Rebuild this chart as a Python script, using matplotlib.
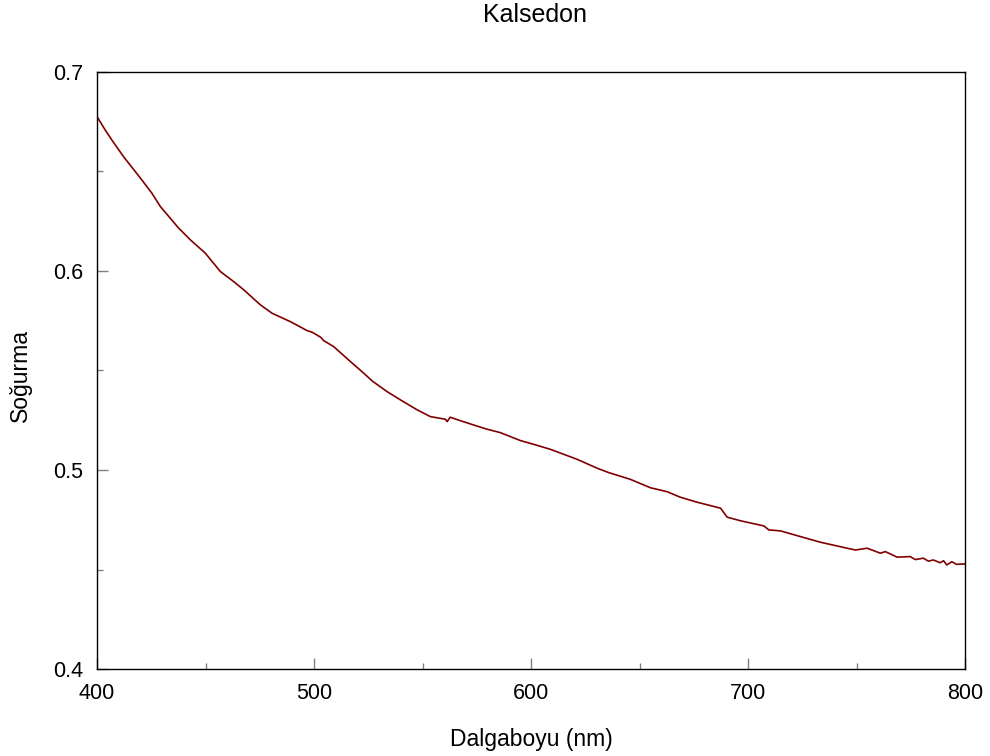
import matplotlib
matplotlib.use("Agg")
import matplotlib.pyplot as plt
from matplotlib.ticker import MultipleLocator

plt.rcParams['font.family'] = ['Liberation Sans', 'DejaVu Sans']

# spectrum
wavelength = [400.0, 403.7, 406.8, 412.2, 420.0, 425.3, 429.2, 437.6, 443.0, 449.9,
              456.8, 463.0, 467.6, 475.3, 480.7, 489.1, 496.8, 499.1, 503.0, 504.4,
              509.0, 516.8, 522.9, 526.8, 533.7, 539.8, 547.5, 553.6, 560.5, 561.3,
              562.7, 567.3, 573.5, 579.6, 585.7, 595.0, 601.1, 608.8, 621.1, 630.4,
              635.7, 645.7, 654.9, 662.6, 668.8, 676.5, 687.3, 690.3, 696.4, 707.2,
              709.5, 714.9, 722.6, 733.3, 745.6, 749.4, 754.8, 760.9, 763.2, 768.6,
              774.6, 777.0, 780.7, 783.0, 785.3, 788.4, 790.0, 791.5, 793.8, 796.0,
              800.0]
absorbance = [0.6775, 0.6709, 0.6658, 0.6574, 0.6466, 0.6390, 0.6323, 0.6215, 0.6156, 0.6089,
              0.5997, 0.5946, 0.5905, 0.5829, 0.5787, 0.5745, 0.5700, 0.5692, 0.5667, 0.5650,
              0.5620, 0.5544, 0.5486, 0.5447, 0.5393, 0.5352, 0.5302, 0.5268, 0.5255, 0.5243,
              0.5265, 0.5248, 0.5226, 0.5205, 0.5188, 0.5148, 0.5129, 0.5104, 0.5054, 0.5009,
              0.4987, 0.4953, 0.4911, 0.4891, 0.4863, 0.4838, 0.4808, 0.4763, 0.4745, 0.4719,
              0.4699, 0.4694, 0.4670, 0.4637, 0.4607, 0.4598, 0.4607, 0.4582, 0.4590, 0.4562,
              0.4565, 0.4550, 0.4557, 0.4542, 0.4548, 0.4534, 0.4544, 0.4523, 0.4539, 0.4526,
              0.4528]

fig = plt.figure(figsize=(9.9, 7.56), dpi=100)
ax = fig.add_axes([0.098, 0.115, 0.877, 0.79])

ax.plot(wavelength, absorbance, color='#800000', linewidth=1.2)

ax.set_xlim(400, 800)
ax.set_ylim(0.4, 0.7)
ax.xaxis.set_major_locator(MultipleLocator(100))
ax.xaxis.set_minor_locator(MultipleLocator(50))
ax.yaxis.set_major_locator(MultipleLocator(0.1))
ax.yaxis.set_minor_locator(MultipleLocator(0.05))
ax.yaxis.set_major_formatter(plt.FuncFormatter(lambda v, p: f'{v:.1f}'))

ax.tick_params(which='major', direction='in', length=8, width=1, color='gray',
               labelsize=15.5, pad=10)
ax.tick_params(which='minor', direction='in', length=4, width=1, color='gray')
ax.tick_params(top=False, right=False)
for s in ax.spines.values():
    s.set_linewidth(1)

fig.text(535 / 990, 1 - 22 / 756, 'Kalsedon', fontsize=18, ha='center', va='baseline')
fig.text(531 / 990, 1 - 746 / 756, 'Dalgaboyu (nm)', fontsize=16.5, ha='center', va='baseline')
fig.text(20 / 990, 1 - 375 / 756, 'Soğurma', fontsize=16.5, rotation=90,
         ha='center', va='center')

fig.savefig('out.png', dpi=100)
